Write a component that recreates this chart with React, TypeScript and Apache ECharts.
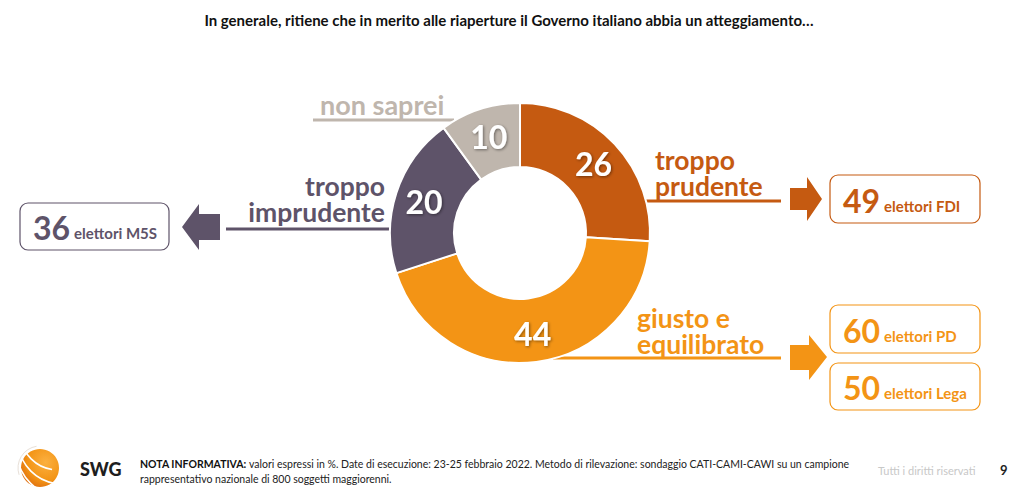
import React, { useEffect, useRef } from "react";
import * as echarts from "echarts";

const title = "In generale, ritiene che in merito alle riaperture il Governo italiano abbia un atteggiamento…";
const categories = ["troppo prudente", "giusto e equilibrato", "troppo imprudente", "non saprei"];
const values = [26, 44, 20, 10];
const sliceColors = ["#C55A11", "#F39415", "#5E5369", "#BFB6AD"];
const labelTexts = ["troppo\nprudente", "giusto e\nequilibrato", "troppo\nimprudente", "non saprei"];
const partyValues = [49, 60, 50, 36];
const partyLabels = ["elettori FDI", "elettori PD", "elettori Lega", "elettori M5S"];
const noteBold = "NOTA INFORMATIVA:";
const noteText1 = " valori espressi in %. Date di esecuzione: 23-25 febbraio 2022. Metodo di rilevazione: sondaggio CATI-CAMI-CAWI su un campione";
const noteText2 = "rappresentativo nazionale di 800 soggetti maggiorenni.";
const rights = "Tutti i diritti riservati";
const pageNum = "9";

const FONT = "Lato, 'Open Sans', sans-serif";
const LBL = 26.5;
const LH = 26;

function box(x: number, y: number, w: number, h: number, color: string, num: number, lab: string, numColor: string) {
  return [
    {
      type: "rect",
      shape: { x, y, width: w, height: h, r: 8 },
      style: { fill: "#fff", stroke: color, lineWidth: 1.2 },
    },
    {
      type: "text",
      x: x + 13,
      y: y + h / 2 + 1,
      style: {
        text: `{n|${num}}{t|${lab}}`,
        verticalAlign: "middle",
        rich: {
          n: { fontSize: 32, fontWeight: "bold", fill: numColor, fontFamily: FONT, verticalAlign: "bottom", padding: [0, 4, 0, 0] },
          t: { fontSize: 15, fontWeight: "bold", fill: numColor, fontFamily: FONT, verticalAlign: "bottom", padding: [0, 0, 3, 0] },
        },
      },
    },
  ];
}

export default function App() {
  const ref = useRef<HTMLDivElement>(null);
  useEffect(() => {
    document.body.style.margin = "0";
    const chart = echarts.init(ref.current!, null, { renderer: "svg" });
    const cx = 520, cy = 233;
    const graphic: any[] = [
      {
        type: "text", x: 509, y: 20,
        style: { text: title, fontSize: 15, fontWeight: "bold", fill: "#111", fontFamily: FONT, align: "center", verticalAlign: "middle" },
      },
      // troppo prudente
      { type: "line", shape: { x1: 645, y1: 201, x2: 781, y2: 201 }, style: { stroke: sliceColors[0], lineWidth: 3 } },
      { type: "text", x: 655, y: 173, style: { text: labelTexts[0], fontSize: LBL, lineHeight: LH, fontWeight: "bold", fill: sliceColors[0], fontFamily: FONT, verticalAlign: "middle" } },
      { type: "polygon", shape: { points: [[790, 188], [807, 188], [807, 177], [822, 199], [807, 221], [807, 210], [790, 210]] }, style: { fill: sliceColors[0] } },
      // giusto e equilibrato
      { type: "line", shape: { x1: 553, y1: 358, x2: 781, y2: 358 }, style: { stroke: sliceColors[1], lineWidth: 3 } },
      { type: "text", x: 637, y: 331, style: { text: labelTexts[1], fontSize: LBL, lineHeight: LH, fontWeight: "bold", fill: sliceColors[1], fontFamily: FONT, verticalAlign: "middle" } },
      { type: "polygon", shape: { points: [[790, 345], [809, 345], [809, 335], [827, 357], [809, 380], [809, 370], [790, 370]] }, style: { fill: sliceColors[1] } },
      // troppo imprudente
      { type: "line", shape: { x1: 226, y1: 229, x2: 392, y2: 229 }, style: { stroke: sliceColors[2], lineWidth: 3 } },
      { type: "text", x: 385, y: 199, style: { text: labelTexts[2], fontSize: LBL, lineHeight: LH, fontWeight: "bold", fill: sliceColors[2], fontFamily: FONT, align: "right", verticalAlign: "middle" } },
      { type: "polygon", shape: { points: [[220, 214], [199, 214], [199, 204], [182, 227], [199, 250], [199, 240], [220, 240]] }, style: { fill: sliceColors[2] } },
      // non saprei
      { type: "line", shape: { x1: 313, y1: 120, x2: 454, y2: 120 }, style: { stroke: sliceColors[3], lineWidth: 3 } },
      { type: "text", x: 320, y: 104, style: { text: labelTexts[3], fontSize: 27, fontWeight: "bold", fill: sliceColors[3], fontFamily: FONT, verticalAlign: "middle" } },
      ...box(830, 175, 150, 48, sliceColors[0], partyValues[0], partyLabels[0], sliceColors[0]),
      ...box(830, 305, 150, 48, sliceColors[1], partyValues[1], partyLabels[1], sliceColors[1]),
      ...box(830, 363, 150, 47, sliceColors[1], partyValues[2], partyLabels[2], sliceColors[1]),
      ...box(20, 203, 149, 47, sliceColors[2], partyValues[3], partyLabels[3], sliceColors[2]),
      // footer logo
      {
        type: "circle", shape: { cx: 40, cy: 468, r: 19 },
        style: {
          fill: new echarts.graphic.RadialGradient(0.65, 0.35, 0.8, [
            { offset: 0, color: "#FBB040" },
            { offset: 0.6, color: "#F39415" },
            { offset: 1, color: "#D9640F" },
          ]),
        },
      },
      { type: "arc", shape: { cx: 58, cy: 432, r: 38, startAngle: Math.PI * 0.55, endAngle: Math.PI * 0.95 }, style: { stroke: "#fff", lineWidth: 1.6, fill: "none" } },
      { type: "arc", shape: { cx: 62, cy: 440, r: 44, startAngle: Math.PI * 0.55, endAngle: Math.PI * 0.95 }, style: { stroke: "#fff", lineWidth: 1.6, fill: "none" } },
      { type: "arc", shape: { cx: 66, cy: 448, r: 50, startAngle: Math.PI * 0.55, endAngle: Math.PI * 0.95 }, style: { stroke: "#fff", lineWidth: 1.6, fill: "none" } },
      { type: "arc", shape: { cx: 40, cy: 468, r: 22, startAngle: Math.PI * 0.9, endAngle: Math.PI * 1.45 }, style: { stroke: "#E8E0D8", lineWidth: 1, fill: "none" } },
      { type: "text", x: 80, y: 469, style: { text: "SWG", fontSize: 18, fontWeight: 900, fill: "#1E1E1E", fontFamily: FONT, verticalAlign: "middle" } },
      {
        type: "text", x: 140, y: 464,
        style: {
          text: `{b|${noteBold}}{r|${noteText1}}`,
          verticalAlign: "middle",
          rich: {
            b: { fontSize: 10.5, fontWeight: "bold", fill: "#111", fontFamily: FONT },
            r: { fontSize: 10.5, fill: "#222", fontFamily: FONT },
          },
        },
      },
      { type: "text", x: 140, y: 479, style: { text: noteText2, fontSize: 10.5, fill: "#222", fontFamily: FONT, verticalAlign: "middle" } },
      { type: "text", x: 878, y: 470, style: { text: rights, fontSize: 11, fill: "#C8C8C8", fontFamily: FONT, verticalAlign: "middle" } },
      { type: "text", x: 1000, y: 470, style: { text: pageNum, fontSize: 13, fontWeight: "bold", fill: "#222", fontFamily: FONT, verticalAlign: "middle" } },
    ];
    chart.setOption({
      animation: false,
      backgroundColor: "#fff",
      series: [
        {
          type: "pie",
          center: [cx, cy],
          radius: [66, 130],
          startAngle: 90,
          clockwise: true,
          silent: true,
          itemStyle: { borderColor: "#fff", borderWidth: 2 },
          label: {
            show: true,
            position: "inside",
            formatter: "{c}",
            color: "#fff",
            fontSize: 32,
            fontWeight: "bold",
            fontFamily: FONT,
            textShadowColor: "rgba(0,0,0,0.45)",
            textShadowBlur: 3,
            textShadowOffsetX: 1,
            textShadowOffsetY: 1,
          },
          labelLine: { show: false },
          data: categories.map((c, i) => ({ name: c, value: values[i], itemStyle: { color: sliceColors[i] } })),
        },
      ],
      graphic,
    });
    return () => chart.dispose();
  }, []);
  return <div ref={ref} style={{ width: 1024, height: 494 }} />;
}
